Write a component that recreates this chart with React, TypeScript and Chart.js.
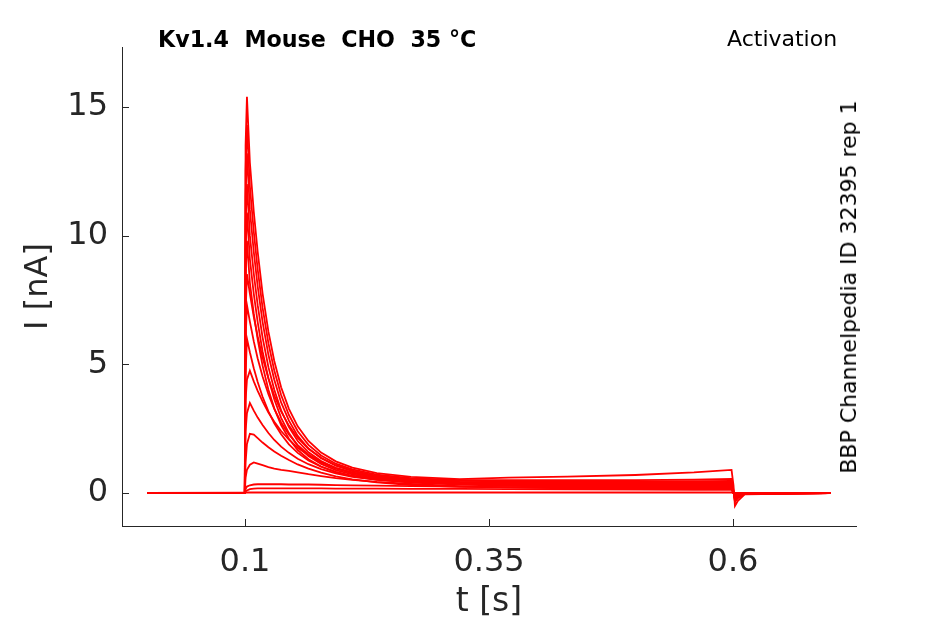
import { useEffect, useRef } from "react";
import Chart from "chart.js/auto";
import type { ChartConfiguration, Plugin } from "chart.js";

// time base shared by every sweep (s)
const TIME = [
  0, 0.0998, 0.1006, 0.102, 0.105, 0.109, 0.113, 0.118, 0.124, 0.13, 0.137, 0.145, 0.154, 0.165, 0.178,
  0.193, 0.21, 0.235, 0.27, 0.32, 0.37, 0.43, 0.5, 0.56, 0.5985, 0.6005, 0.602, 0.605, 0.612, 0.7,
];

// current per sweep (nA)
const SWEEP_01 = [0, 0.01, 13.5, 15.4, 12.84, 10.93, 9.37, 7.76, 6.27, 5.13, 4.11, 3.27, 2.59, 2.02, 1.57, 1.23, 0.99, 0.77, 0.63, 0.54, 0.6, 0.64, 0.7, 0.8, 0.9, 0.3, -0.5, -0.3, -0.05, 0];
const SWEEP_02 = [0, 0.01, 12.5, 14.3, 11.92, 10.15, 8.69, 7.2, 5.82, 4.76, 3.81, 3.03, 2.4, 1.87, 1.46, 1.14, 0.92, 0.71, 0.58, 0.5, 0.5, 0.5, 0.5, 0.52, 0.55, 0.1, -0.35, -0.2, -0.04, 0];
const SWEEP_03 = [0, 0.01, 11.5, 13.2, 11.0, 9.37, 8.03, 6.65, 5.37, 4.4, 3.52, 2.81, 2.22, 1.73, 1.35, 1.06, 0.85, 0.66, 0.54, 0.47, 0.45, 0.44, 0.45, 0.46, 0.47, 0.05, -0.3, -0.18, -0.03, 0];
const SWEEP_04 = [0, 0.01, 10.4, 12.0, 10.0, 8.52, 7.3, 6.05, 4.89, 4.01, 3.21, 2.56, 2.02, 1.58, 1.24, 0.97, 0.78, 0.61, 0.5, 0.43, 0.41, 0.39, 0.39, 0.39, 0.4, 0.05, -0.25, -0.15, -0.03, 0];
const SWEEP_05 = [0, 0.01, 9.4, 10.9, 9.09, 7.74, 6.64, 5.5, 4.45, 3.64, 2.92, 2.33, 1.84, 1.44, 1.13, 0.89, 0.72, 0.56, 0.46, 0.4, 0.38, 0.36, 0.35, 0.35, 0.35, 0.03, -0.22, -0.12, -0.02, 0];
const SWEEP_06 = [0, 0.01, 8.4, 9.8, 8.17, 6.97, 5.97, 4.95, 4.01, 3.29, 2.64, 2.11, 1.67, 1.31, 1.03, 0.81, 0.66, 0.52, 0.44, 0.38, 0.36, 0.33, 0.32, 0.31, 0.31, 0.02, -0.2, -0.1, -0.02, 0];
const SWEEP_07 = [0, 0.01, 7.0, 8.5, 7.75, 6.85, 6.08, 5.26, 4.46, 3.79, 3.17, 2.62, 2.14, 1.72, 1.37, 1.08, 0.87, 0.67, 0.52, 0.42, 0.37, 0.32, 0.3, 0.29, 0.28, 0.02, -0.18, -0.09, -0.02, 0];
const SWEEP_08 = [0, 0.01, 6.0, 7.3, 6.66, 5.89, 5.23, 4.53, 3.84, 3.27, 2.74, 2.27, 1.86, 1.5, 1.2, 0.95, 0.77, 0.6, 0.47, 0.39, 0.35, 0.3, 0.28, 0.27, 0.26, 0.02, -0.16, -0.08, -0.01, 0];
const SWEEP_09 = [0, 0.01, 4.6, 6.0, 5.47, 4.85, 4.31, 3.74, 3.17, 2.71, 2.28, 1.89, 1.56, 1.26, 1.02, 0.82, 0.67, 0.53, 0.42, 0.35, 0.31, 0.28, 0.26, 0.25, 0.24, 0.01, -0.14, -0.07, -0.01, 0];
const SWEEP_10 = [0, 0.01, 3.6, 4.4, 4.75, 4.34, 3.97, 3.56, 3.13, 2.77, 2.41, 2.07, 1.76, 1.47, 1.2, 0.98, 0.8, 0.62, 0.48, 0.38, 0.32, 0.27, 0.24, 0.23, 0.22, 0.01, -0.12, -0.06, -0.01, 0];
const SWEEP_11 = [0, 0.01, 2.4, 3.1, 3.5, 3.2, 2.93, 2.64, 2.33, 2.06, 1.8, 1.56, 1.33, 1.12, 0.93, 0.76, 0.63, 0.51, 0.4, 0.33, 0.28, 0.24, 0.22, 0.21, 0.2, 0.01, -0.1, -0.05, -0.01, 0];
const SWEEP_12 = [0, 0.01, 1.2, 1.9, 2.3, 2.27, 2.13, 1.96, 1.78, 1.61, 1.45, 1.28, 1.11, 0.95, 0.79, 0.65, 0.53, 0.41, 0.31, 0.24, 0.22, 0.2, 0.19, 0.18, 0.17, 0.01, -0.08, -0.04, 0, 0];
const SWEEP_13 = [0, 0.01, 0.6, 0.9, 1.1, 1.19, 1.14, 1.08, 1.01, 0.95, 0.9, 0.86, 0.8, 0.73, 0.66, 0.58, 0.51, 0.43, 0.35, 0.27, 0.22, 0.18, 0.16, 0.15, 0.15, 0, -0.06, -0.03, 0, 0];
const SWEEP_14 = [0, 0.01, 0.15, 0.25, 0.3, 0.33, 0.34, 0.34, 0.34, 0.34, 0.34, 0.33, 0.33, 0.33, 0.32, 0.31, 0.3, 0.29, 0.27, 0.25, 0.23, 0.21, 0.2, 0.19, 0.19, 0.02, -0.04, -0.02, 0, 0];
const SWEEP_15 = [0, 0.01, 0.05, 0.1, 0.15, 0.17, 0.18, 0.18, 0.18, 0.18, 0.18, 0.18, 0.18, 0.18, 0.18, 0.17, 0.17, 0.17, 0.16, 0.16, 0.15, 0.14, 0.13, 0.12, 0.12, 0.01, -0.02, 0, 0, 0];
const SWEEP_16 = [0, 0.01, 0.02, 0.02, 0.02, 0.02, 0.02, 0.02, 0.02, 0.02, 0.02, 0.02, 0.02, 0.02, 0.02, 0.02, 0.02, 0.02, 0.02, 0.02, 0.02, 0.02, 0.02, 0.02, 0.02, 0, 0, 0, 0, 0];

const SWEEPS = [
  SWEEP_01, SWEEP_02, SWEEP_03, SWEEP_04, SWEEP_05, SWEEP_06, SWEEP_07, SWEEP_08,
  SWEEP_09, SWEEP_10, SWEEP_11, SWEEP_12, SWEEP_13, SWEEP_14, SWEEP_15, SWEEP_16,
];

const X_TICKS = [0.1, 0.35, 0.6];
const Y_TICKS = [0, 5, 10, 15];

const AXIS_COLOR = "#262626";
const FONT = "'DejaVu Sans', Verdana, sans-serif";

// matlab-style tick marks pointing into the plot
const innerTicks: Plugin<"line"> = {
  id: "innerTicks",
  afterDraw(chart) {
    const { ctx, chartArea, scales } = chart;
    const len = 7;
    ctx.save();
    ctx.strokeStyle = AXIS_COLOR;
    ctx.lineWidth = 1;
    ctx.beginPath();
    X_TICKS.forEach((v) => {
      const px = Math.round(scales.x.getPixelForValue(v)) + 0.5;
      ctx.moveTo(px, chartArea.bottom);
      ctx.lineTo(px, chartArea.bottom - len);
    });
    Y_TICKS.forEach((v) => {
      const py = Math.round(scales.y.getPixelForValue(v)) + 0.5;
      ctx.moveTo(chartArea.left, py);
      ctx.lineTo(chartArea.left + len, py);
    });
    ctx.stroke();
    ctx.restore();
  },
};

const createConfig = (): ChartConfiguration<"line"> => ({
  type: "line",
  data: {
    datasets: SWEEPS.map((sweep, i) => ({
      label: `sweep ${i + 1}`,
      data: TIME.map((t, k) => ({ x: t, y: sweep[k] })),
      borderColor: "#ff0000",
      borderWidth: 1.8,
      pointRadius: 0,
      tension: 0,
      fill: false,
    })),
  },
  options: {
    animation: false,
    responsive: false,
    maintainAspectRatio: false,
    layout: { padding: { top: 47, right: 89, left: 0, bottom: 0 } },
    plugins: {
      legend: { display: false },
      tooltip: { enabled: false },
    },
    scales: {
      x: {
        type: "linear",
        min: -0.02602,
        max: 0.72602,
        afterBuildTicks: (scale) => {
          scale.ticks = X_TICKS.map((value) => ({ value }));
        },
        afterFit: (scale) => {
          scale.height = 98;
        },
        grid: { display: false, drawTicks: false },
        border: { display: true, color: AXIS_COLOR, width: 1 },
        ticks: {
          color: AXIS_COLOR,
          font: { family: FONT, size: 32 },
          padding: 17,
          maxRotation: 0,
          callback: (v) => String(v),
        },
        title: {
          display: true,
          text: "t [s]",
          color: AXIS_COLOR,
          font: { family: FONT, size: 33 },
          padding: { top: 0, bottom: 2 },
        },
      },
      y: {
        type: "linear",
        min: -1.282,
        max: 17.33,
        afterBuildTicks: (scale) => {
          scale.ticks = Y_TICKS.map((value) => ({ value }));
        },
        afterFit: (scale) => {
          scale.width = 122;
        },
        grid: { display: false, drawTicks: false },
        border: { display: true, color: AXIS_COLOR, width: 1 },
        ticks: {
          color: AXIS_COLOR,
          font: { family: FONT, size: 32 },
          padding: 14,
          callback: (v) => String(v),
        },
        title: {
          display: true,
          text: "I [nA]",
          color: AXIS_COLOR,
          font: { family: FONT, size: 32 },
          padding: { top: 19, bottom: 0 },
        },
      },
    },
  },
  plugins: [innerTicks],
});

export default function App() {
  const canvasRef = useRef<HTMLCanvasElement>(null);
  const chartRef = useRef<Chart<"line"> | null>(null);

  useEffect(() => {
    document.body.style.margin = "0";
    if (!canvasRef.current) return;
    chartRef.current = new Chart(canvasRef.current, createConfig());
    return () => {
      chartRef.current?.destroy();
      chartRef.current = null;
    };
  }, []);

  return (
    <div style={{ position: "relative", width: 945, height: 624, background: "#fff", fontFamily: FONT }}>
      <canvas ref={canvasRef} width={945} height={624} style={{ width: 945, height: 624, display: "block" }} />
      <div
        style={{
          position: "absolute",
          left: 158,
          top: 28,
          fontSize: 22.2,
          lineHeight: "22px",
          fontWeight: 700,
          color: "#000",
          whiteSpace: "pre",
        }}
      >
        {"Kv1.4  Mouse  CHO  35 °C"}
      </div>
      <div
        style={{
          position: "absolute",
          left: 727,
          top: 28,
          fontSize: 22,
          lineHeight: "22px",
          color: "#000",
          whiteSpace: "pre",
        }}
      >
        Activation
      </div>
      <div
        style={{
          position: "absolute",
          left: 849,
          top: 287,
          fontSize: 22,
          lineHeight: "22px",
          color: "#000",
          whiteSpace: "pre",
          transform: "translate(-50%, -50%) rotate(-90deg)",
        }}
      >
        BBP Channelpedia ID 32395 rep 1
      </div>
    </div>
  );
}
